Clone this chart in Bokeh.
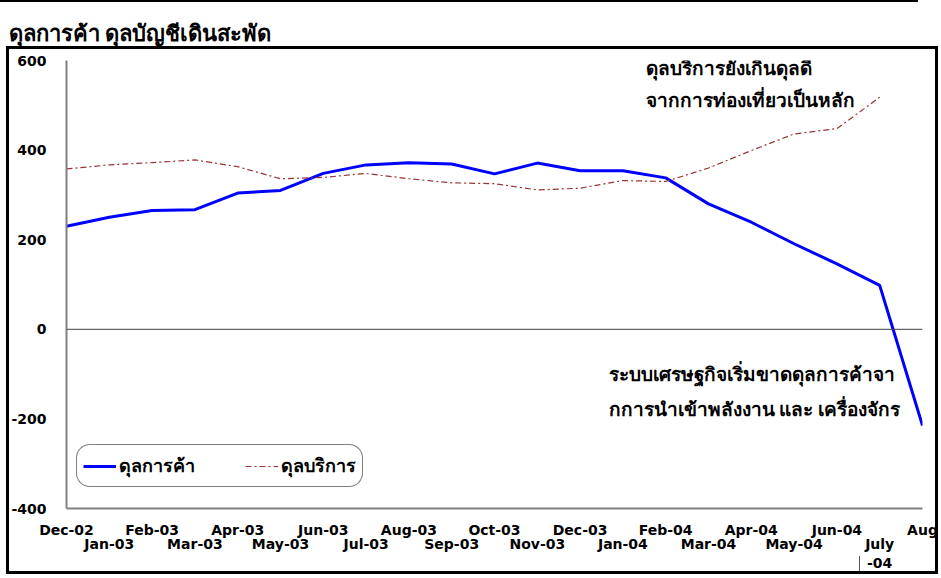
from bokeh.plotting import figure
from bokeh.models import (Range1d, LinearAxis, FixedTicker, Span, Label, Legend,
                          LegendItem)
from bokeh.embed import file_html
from bokeh.resources import INLINE

# ---------------- data ----------------
months = ["Dec-02", "Jan-03", "Feb-03", "Mar-03", "Apr-03", "May-03", "Jun-03",
          "Jul-03", "Aug-03", "Sep-03", "Oct-03", "Nov-03", "Dec-03", "Jan-04",
          "Feb-04", "Mar-04", "Apr-04", "May-04", "Jun-04", "July", "Aug"]
trade = [230, 250, 265, 267, 304, 310, 348, 367, 372, 369, 347, 371, 354, 354,
         338, 280, 239, 191, 146, 98, -215]
services = [358, 367, 372, 378, 363, 336, 339, 348, 336, 327, 325, 311, 315, 332,
            330, 360, 399, 436, 448, 518, float("nan")]
y_ticks = [-400, -200, 0, 200, 400, 600]
y_tick_labels = ["-400", "-200", "0", "200", "400", "600"]
year_suffix = "-04"

title_text = "ดุลการค้า ดุลบัญชีเดินสะพัด"
trade_name = "ดุลการค้า"
services_name = "ดุลบริการ"
note_top = ["ดุลบริการยังเกินดุลดี", "จากการท่องเที่ยวเป็นหลัก"]
note_bottom = ["ระบบเศรษฐกิจเริ่มขาดดุลการค้าจา", "กการนำเข้าพลังงาน และ เครื่องจักร"]

x = list(range(len(months)))
TICK_FONT = "DejaVu Sans"
THAI_FONT = "Noto Sans"

W, H = 941, 578
FL, FR, FT, FB = 66, 922, 60, 508   # frame edges in pixels

p = figure(width=W, height=H, output_backend="svg", toolbar_location=None,
           x_range=Range1d(0, len(months) - 1), y_range=Range1d(-400, 600),
           x_axis_type=None, y_axis_type=None,
           min_border_left=FL, min_border_right=W - FR, min_border_top=FT,
           min_border_bottom=H - FB)
p.grid.visible = False
p.outline_line_color = None
p.background_fill_alpha = 0
p.border_fill_alpha = 0

# outer box and top rule painted as CSS background strips behind the transparent canvas
strips = [  # (left, top, width, height, colour)
    (6, 46, 932, 3, "#000"),
    (6, 571, 932, 3, "#000"),
    (6, 46, 3, 528, "#000"),
    (935, 46, 3, 528, "#000"),
    (0, 0, 918, 2, "#000"),
    (859, 556, 1, 15, "#555"),
]
p.styles = {
    "background-image": ", ".join(f"linear-gradient({c}, {c})" for *_, c in strips),
    "background-position": ", ".join(f"{l}px {t}px" for l, t, *_ in strips),
    "background-size": ", ".join(f"{w}px {h}px" for _, _, w, h, _ in strips),
    "background-repeat": "no-repeat",
    "background-color": "white",
}

p.title.text = title_text
p.title.text_font = THAI_FONT
p.title.text_font_size = "22px"
p.title.text_font_style = "bold"
p.title.text_color = "black"
p.title.align = "left"
p.title.offset = -(FL - 8)
p.title.standoff = 28

# y axis
yax = LinearAxis(ticker=FixedTicker(ticks=y_ticks))
yax.major_label_overrides = {v: s for v, s in zip(y_ticks, y_tick_labels)}
yax.axis_line_color = "#808080"
yax.axis_line_width = 2
yax.major_tick_line_color = None
yax.minor_tick_line_color = None
yax.major_tick_out = 0
yax.major_tick_in = 0
yax.major_label_standoff = 20
yax.major_label_text_font = TICK_FONT
yax.major_label_text_font_size = "14px"
yax.major_label_text_font_style = "bold"
yax.major_label_text_color = "black"
p.add_layout(yax, "left")

def make_x_axis(idx, labels, standoff, show_line):
    ax = LinearAxis(ticker=FixedTicker(ticks=idx))
    ax.major_label_overrides = {i: labels[k] for k, i in enumerate(idx)}
    ax.axis_line_color = "#808080" if show_line else None
    ax.axis_line_width = 2
    ax.major_tick_line_color = None
    ax.minor_tick_line_color = None
    ax.major_tick_out = 0
    ax.major_tick_in = 0
    ax.axis_label_standoff = 0
    ax.major_label_standoff = standoff
    ax.major_label_text_font = TICK_FONT
    ax.major_label_text_font_size = "14px"
    ax.major_label_text_font_style = "bold"
    ax.major_label_text_color = "black"
    p.add_layout(ax, "below")
    return ax

even = [i for i in x if i % 2 == 0]
odd = [i for i in x if i % 2 == 1]
make_x_axis(even, [months[i] for i in even], 13, True)
make_x_axis(odd, [months[i] for i in odd], -5, False)
make_x_axis([len(months) - 2], [year_suffix], 3, False)

# zero line
p.add_layout(Span(location=0, dimension="width", line_color="#404040", line_width=1))

r_trade = p.line(x, trade, line_color="#0000FF", line_width=3)
r_serv = p.line(x, services, line_color="#993333", line_width=1.2, line_dash="6 3 2 3")

legend = Legend(items=[LegendItem(label=trade_name, renderers=[r_trade]),
                       LegendItem(label=services_name, renderers=[r_serv])],
                orientation="horizontal", location=(10, 21))
legend.label_text_font = THAI_FONT
legend.label_text_font_size = "18px"
legend.label_text_font_style = "bold"
legend.label_text_color = "black"
legend.border_line_color = "black"
legend.border_line_width = 1
legend.background_fill_color = "white"
legend.background_fill_alpha = 1
legend.glyph_width = 33
legend.label_standoff = 3
legend.spacing = 50
legend.padding = 6
legend.margin = 0
if "border_radius" in Legend.properties():
    legend.border_radius = 14
p.add_layout(legend, "center")

# pixel -> data helpers for annotation placement
def dx(px):
    return (px - FL) / (FR - FL) * (len(months) - 1)

def dy(py):
    return 600 - (py - FT) / (FB - FT) * 1000

def note(px, py, txt):
    p.add_layout(Label(x=dx(px), y=dy(py), text=txt, text_font=THAI_FONT,
                       text_font_size="19px", text_font_style="bold", text_color="black",
                       text_align="left", text_baseline="middle"))

note(645, 67, note_top[0])
note(645, 99, note_top[1])
note(608, 373, note_bottom[0])
note(608, 408, note_bottom[1])

open("out.html", "w").write(file_html(p, INLINE))
